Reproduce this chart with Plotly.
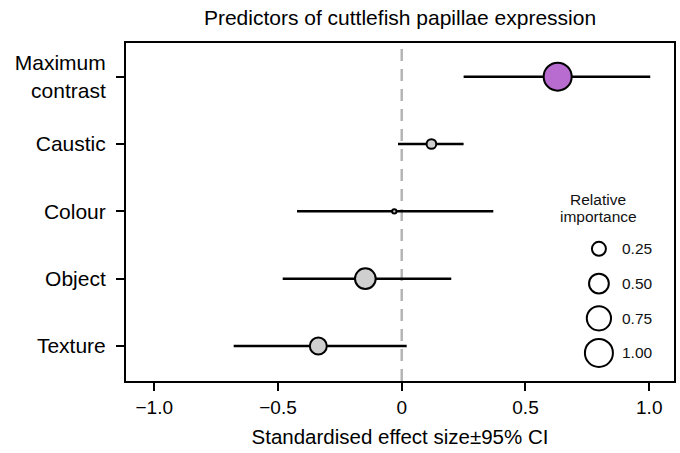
import math
import plotly.graph_objects as go

# ---- data ----
predictors = ["Maximum<br>contrast", "Caustic", "Colour", "Object", "Texture"]
effect = [0.63, 0.12, -0.03, -0.147, -0.337]
ci_low = [0.25, -0.015, -0.423, -0.481, -0.679]
ci_high = [1.004, 0.25, 0.37, 0.20, 0.02]
importance = [1.0, 0.12, 0.024, 0.546, 0.369]
fill_colors = ["#B96CCF", "#CFCFCF", "#CFCFCF", "#CFCFCF", "#CFCFCF"]

legend_values = [0.25, 0.50, 0.75, 1.00]
legend_labels = ["0.25", "0.50", "0.75", "1.00"]

x_tickvals = [-1.0, -0.5, 0, 0.5, 1.0]
x_ticktext = ["\u22121.0", "\u22120.5", "0", "0.5", "1.0"]

FONT = "Liberation Sans, Arial, Helvetica, sans-serif"


def msize(v):
    return 28 * math.sqrt(v)


err_plus = [h - e for h, e in zip(ci_high, effect)]
err_minus = [e - l for e, l in zip(effect, ci_low)]

fig = go.Figure()

# zero reference line
fig.add_shape(type="line", xref="x", yref="paper", x0=0, x1=0, y0=0, y1=1,
              line=dict(color="#B5B5B5", width=2.5, dash="12px,8px"), layer="below")

fig.add_trace(go.Scatter(
    x=effect, y=predictors, mode="markers",
    error_x=dict(type="data", symmetric=False, array=err_plus, arrayminus=err_minus,
                 color="black", thickness=2.5, width=0),
    marker=dict(size=[msize(v) for v in importance], color=fill_colors, opacity=1,
                line=dict(color="black", width=2)),
    showlegend=False, hoverinfo="skip",
))

# size legend (drawn on an overlay axis spanning the plot area)
leg_y = [0.391 - i * 0.1027 for i in range(len(legend_values))]
fig.add_trace(go.Scatter(
    x=[0.863] * len(legend_values), y=leg_y, mode="markers",
    marker=dict(size=[msize(v) for v in legend_values], color="white", opacity=1,
                line=dict(color="black", width=2)),
    xaxis="x2", yaxis="y2", showlegend=False, hoverinfo="skip",
))
for lab, yy in zip(legend_labels, leg_y):
    fig.add_annotation(x=0.901, y=yy, xref="x2", yref="y2", text=lab, showarrow=False,
                       xanchor="left", yanchor="middle",
                       font=dict(family=FONT, size=15.5, color="#111"))
for txt, yy in [("Relative", 0.537), ("importance", 0.487)]:
    fig.add_annotation(x=0.862, y=yy, xref="x2", yref="y2", text=txt, showarrow=False,
                       xanchor="center", yanchor="middle",
                       font=dict(family=FONT, size=15.5, color="#111"))

fig.update_layout(
    width=680, height=453,
    margin=dict(l=126, r=6, t=43, b=72, autoexpand=False),
    paper_bgcolor="white", plot_bgcolor="white",
    font=dict(family=FONT, size=20, color="black"),
    title=dict(text="Predictors of cuttlefish papillae expression", x=0.5, xref="paper",
               xanchor="center", y=0.960, yref="container", yanchor="middle",
               font=dict(family=FONT, size=21, color="black")),
    xaxis=dict(range=[-1.114, 1.10], tickvals=x_tickvals, ticktext=x_ticktext,
               ticks="outside", ticklen=8, tickwidth=2, tickcolor="black",
               showline=True, linecolor="black", linewidth=2, mirror=True,
               showgrid=False, zeroline=False, automargin=False,
               title=dict(text="Standardised effect size\u00b195% CI", standoff=13,
                          font=dict(family=FONT, size=20.5)),
               tickfont=dict(family=FONT, size=19)),
    yaxis=dict(type="category", categoryorder="array", categoryarray=predictors,
               range=[4.52, -0.5], automargin=False,
               ticks="outside", ticklen=8, tickwidth=2, tickcolor="black",
               showline=True, linecolor="black", linewidth=2, mirror=True,
               showgrid=False, zeroline=False, ticklabelstandoff=6,
               tickfont=dict(family=FONT, size=21)),
    xaxis2=dict(overlaying="x", range=[0, 1], visible=False, fixedrange=True),
    yaxis2=dict(overlaying="y", range=[0, 1], visible=False, fixedrange=True),
)

fig.write_html("out.html", config={"displayModeBar": False},
               post_script="document.body.style.margin='0px';")
